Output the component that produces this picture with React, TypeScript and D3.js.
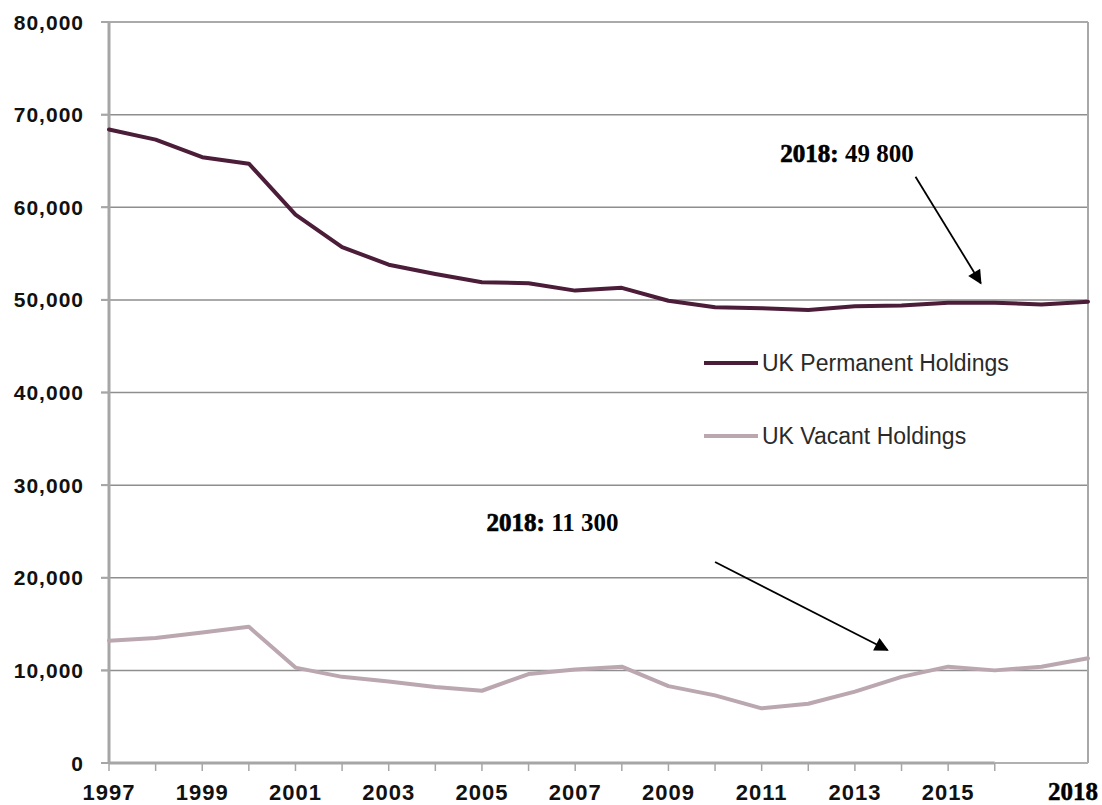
import * as d3 from "d3";

const years = d3.range(1997, 2019);
const permanent = [
  68400, 67300, 65400, 64700, 59200, 55700, 53800, 52800, 51900, 51800, 51000,
  51300, 49900, 49200, 49100, 48900, 49300, 49400, 49700, 49700, 49500, 49800,
];
const vacant = [
  13200, 13500, 14100, 14700, 10300, 9300, 8800, 8200, 7800, 9600, 10100,
  10400, 8300, 7300, 5900, 6400, 7700, 9300, 10400, 10000, 10400, 11300,
];
const yTicks = [0, 10000, 20000, 30000, 40000, 50000, 60000, 70000, 80000];
const xTickYears = d3.range(1997, 2017);
const xLabelYears = [1997, 1999, 2001, 2003, 2005, 2007, 2009, 2011, 2013, 2015];
const seriesNames = ["UK Permanent Holdings", "UK Vacant Holdings"];
const seriesColors = ["#4b1d38", "#bba7b0"];

// annotations in data units: bold part, rest, text anchor, arrow from/to
const notes = [
  { bold: "2018:", rest: " 49 800", tx: 2011.4, ty: 64900, from: [2014.3, 63300], to: [2015.7, 51800] },
  { bold: "2018:", rest: " 11 300", tx: 2005.1, ty: 25100, from: [2010.0, 21700], to: [2013.7, 12200] },
];

const W = 1102;
const H = 805;
const LEFT = 109;
const RIGHT = 1088;
const TOP = 22;
const BOTTOM = 763;

const SANS = "'Liberation Sans', Arial, Helvetica, sans-serif";
const SERIF = "'Liberation Serif', 'Times New Roman', serif";

export default function App() {
  const x = d3.scaleLinear().domain([1997, 2018]).range([LEFT, RIGHT]);
  const y = d3.scaleLinear().domain([0, 80000]).range([BOTTOM, TOP]);

  const line = d3
    .line<number>()
    .x((_, i) => x(years[i]))
    .y((d) => y(d));

  const fmt = d3.format(",");

  return (
    <svg
      width={W}
      height={H}
      style={{ position: "absolute", left: 0, top: 0, background: "#fff" }}
    >
      <defs>
        <marker
          id="arrow"
          viewBox="0 0 10 10"
          refX="9"
          refY="5"
          markerWidth="16"
          markerHeight="14"
          markerUnits="userSpaceOnUse"
          orient="auto"
        >
          <path d="M0,0 L10,5 L0,10 z" fill="#000" />
        </marker>
      </defs>

      {/* Grid lines */}
      {yTicks
        .filter((t) => t > 0)
        .map((t) => (
          <line
            key={t}
            x1={LEFT - 8}
            x2={RIGHT}
            y1={y(t)}
            y2={y(t)}
            stroke="#8e8e8e"
            strokeWidth={1.5}
          />
        ))}

      {/* right border + bottom border */}
      <line x1={RIGHT} x2={RIGHT} y1={y(80000)} y2={BOTTOM} stroke="#a8a8a8" strokeWidth={2} />
      <line x1={x(2016)} x2={RIGHT} y1={BOTTOM} y2={BOTTOM} stroke="#b0b0b0" strokeWidth={2} />

      {/* Y axis */}
      <line x1={LEFT} x2={LEFT} y1={TOP} y2={BOTTOM} stroke="#a6a6a6" strokeWidth={3} />
      {yTicks.map((t) => (
        <g key={t}>
          <line x1={LEFT - 8} x2={LEFT} y1={y(t)} y2={y(t)} stroke="#a6a6a6" strokeWidth={2} />
          <text
            x={84}
            y={y(t)}
            dy="0.36em"
            textAnchor="end"
            fontFamily={SANS}
            fontWeight="bold"
            fontSize={21}
            letterSpacing={1}
            fill="#111"
          >
            {fmt(t)}
          </text>
        </g>
      ))}

      {/* X axis */}
      <line x1={LEFT} x2={x(2016)} y1={BOTTOM} y2={BOTTOM} stroke="#a6a6a6" strokeWidth={3} />
      {xTickYears.map((yr) => (
        <line
          key={yr}
          x1={x(yr)}
          x2={x(yr)}
          y1={BOTTOM}
          y2={BOTTOM + 8}
          stroke="#a6a6a6"
          strokeWidth={1.5}
        />
      ))}
      {xLabelYears.map((yr) => (
        <text
          key={yr}
          x={x(yr)}
          y={800}
          textAnchor="middle"
          fontFamily={SANS}
          fontWeight="bold"
          fontSize={22}
          letterSpacing={1}
          fill="#111"
        >
          {yr}
        </text>
      ))}
      <text
        x={1098}
        y={800}
        textAnchor="end"
        fontFamily={SERIF}
        fontWeight="bold"
        fontSize={25}
        fill="#000"
        stroke="#000"
        strokeWidth={0.5}
      >
        2018
      </text>

      {/* Series */}
      {[permanent, vacant].map((s, i) => (
        <path
          key={i}
          d={line(s) ?? ""}
          fill="none"
          stroke={seriesColors[i]}
          strokeWidth={4}
          strokeLinejoin="round"
          strokeLinecap="round"
        />
      ))}

      {/* Legend */}
      {seriesNames.map((name, i) => {
        const ly = i === 0 ? 363 : 436;
        return (
          <g key={name}>
            <line x1={704} x2={758} y1={ly} y2={ly} stroke={seriesColors[i]} strokeWidth={4} />
            <text
              x={762}
              y={ly}
              dy="0.36em"
              fontFamily={SANS}
              fontSize={23}
              fill="#2a2a2a"
            >
              {name}
            </text>
          </g>
        );
      })}

      {/* Annotations */}
      {notes.map((n, i) => (
        <g key={i}>
          <text x={x(n.tx)} y={y(n.ty)} fontFamily={SERIF} fontSize={25} fontWeight="bold" fill="#000">
            <tspan stroke="#000" strokeWidth={0.7}>
              {n.bold}
            </tspan>
            <tspan>{n.rest}</tspan>
          </text>
          <line
            x1={x(n.from[0])}
            y1={y(n.from[1])}
            x2={x(n.to[0])}
            y2={y(n.to[1])}
            stroke="#000"
            strokeWidth={1.8}
            markerEnd="url(#arrow)"
          />
        </g>
      ))}
    </svg>
  );
}
